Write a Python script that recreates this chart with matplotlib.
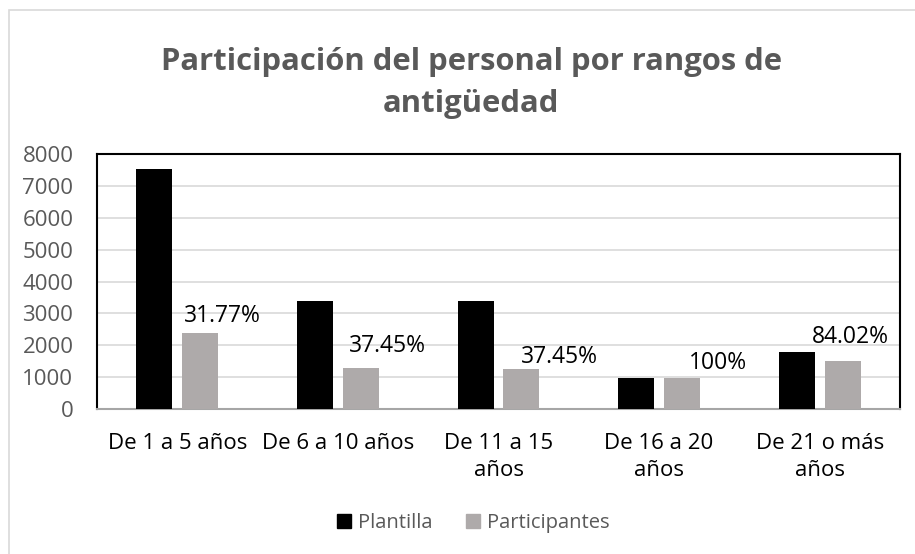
import matplotlib.pyplot as plt
import matplotlib.patches as mpatches
from matplotlib.lines import Line2D
import numpy as np

plt.rcParams['font.family'] = ['Open Sans', 'DejaVu Sans']

# datos
rangos = ['De 1 a 5 años', 'De 6 a 10 años', 'De 11 a 15\naños', 'De 16 a 20\naños', 'De 21 o más\naños']
plantilla = [7520, 3400, 3380, 965, 1775]
participantes = [2390, 1273, 1266, 965, 1491]
porcentajes = ['31.77%', '37.45%', '37.45%', '100%', '84.02%']

# desplazamiento manual de las etiquetas (pixeles)
label_dx = [22, 27, 38, 36, 8]
label_dy = [17, 22, 12, 15, 24]

gris_txt = '#595959'
fig = plt.figure(figsize=(9.15, 5.54), dpi=100)
ax = fig.add_axes([97/915, 1 - 409/554, (900 - 97)/915, (409 - 154)/554])

x = np.arange(len(rangos))
w = 0.224
off = 0.143
ax.bar(x - off, plantilla, w, color='black', zorder=3)
ax.bar(x + off, participantes, w, color='#AEAAAA', zorder=3)

for i in range(len(rangos)):
    ax.annotate(porcentajes[i], (x[i] + off, participantes[i]),
                xytext=(label_dx[i], label_dy[i]), textcoords='offset pixels',
                ha='center', va='center', fontsize=16.5, color='black', zorder=4)

ax.set_xlim(-0.5, len(rangos) - 0.5)
ax.set_ylim(0, 8000)
ax.set_yticks(range(0, 8001, 1000))
ax.yaxis.grid(True, color='#D9D9D9', linewidth=1.2, zorder=0)
ax.set_xticks(x)
ax.set_xticklabels(rangos, fontsize=16, color='black', linespacing=1.4)
ax.tick_params(axis='x', length=0, pad=17)
ax.tick_params(axis='y', length=0, pad=17, labelsize=16, labelcolor=gris_txt)

for s in ['top', 'left', 'right']:
    ax.spines[s].set_color('black')
    ax.spines[s].set_linewidth(1.5)
ax.spines['bottom'].set_color('#A6A6A6')
ax.spines['bottom'].set_linewidth(1.5)

fig.text(0.515, 1 - 83/554, 'Participación del personal por rangos de\nantigüedad',
         ha='center', va='center', fontsize=22.3, fontweight='bold', color=gris_txt,
         linespacing=1.55)

# borde del area del grafico
fig.patches.append(mpatches.Rectangle((9/915, -0.1), 1.2, 1 - 10/554 + 0.1,
                                      transform=fig.transFigure, fill=False,
                                      edgecolor='#D9D9D9', linewidth=1.2))

handles = [Line2D([], [], marker='s', linestyle='', markersize=10, color='black'),
           Line2D([], [], marker='s', linestyle='', markersize=10, color='#AEAAAA')]
leg = fig.legend(handles, ['Plantilla', 'Participantes'], loc='center',
                 bbox_to_anchor=(473/915, 1 - 523/554), ncol=2, frameon=False,
                 fontsize=14.5, handlelength=0.8, handletextpad=0.3, columnspacing=1.6)
for t in leg.get_texts():
    t.set_color(gris_txt)

plt.savefig('out.png', dpi=100)
